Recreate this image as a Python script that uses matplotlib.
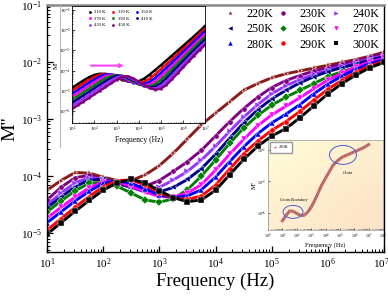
import numpy as np
import matplotlib
matplotlib.use('Agg')
import matplotlib.pyplot as plt
from matplotlib.lines import Line2D
from matplotlib.patches import Ellipse
from matplotlib.transforms import ScaledTranslation
from matplotlib.ticker import LogFormatterMathtext, NullFormatter

plt.rcParams['font.family'] = ['Liberation Serif', 'DejaVu Serif']
plt.rcParams['mathtext.fontset'] = 'stix'

# log10 of frequency (Hz) at which every curve was sampled
log_freq = [1.0, 1.25, 1.5, 1.75, 2.0, 2.25, 2.5, 2.75, 3.0, 3.25, 3.5, 3.75, 4.0,
            4.25, 4.5, 4.75, 5.0, 5.25, 5.5, 5.75, 6.0, 6.25, 6.5, 6.75, 7.0]

# main panel, log10(M'') for 220 K ... 300 K
main_temps = ['220K', '230K', '240K', '250K', '260K', '270K', '280K', '290K', '300K']
m_220 = [-4.25, -4.08, -3.94, -3.95, -4.02, -4.08, -4.08, -3.98, -3.82, -3.60, -3.35, -3.10, -2.90,
         -2.70, -2.50, -2.38, -2.28, -2.21, -2.16, -2.11, -2.06, -2.01, -1.96, -1.90, -1.83]
m_230 = [-4.42, -4.20, -4.03, -3.99, -4.06, -4.14, -4.19, -4.18, -4.08, -3.92, -3.75, -3.55, -3.30,
         -3.05, -2.82, -2.62, -2.45, -2.33, -2.24, -2.16, -2.10, -2.04, -1.98, -1.92, -1.86]
m_240 = [-4.51, -4.30, -4.12, -4.03, -4.05, -4.13, -4.20, -4.25, -4.20, -4.07, -3.92, -3.72, -3.48,
         -3.22, -2.97, -2.75, -2.56, -2.42, -2.31, -2.22, -2.14, -2.08, -2.02, -1.95, -1.89]
m_250 = [-4.56, -4.37, -4.19, -4.07, -4.06, -4.12, -4.20, -4.28, -4.28, -4.20, -4.06, -3.87, -3.62,
         -3.34, -3.07, -2.84, -2.65, -2.50, -2.37, -2.26, -2.17, -2.10, -2.04, -1.97, -1.91]
m_260 = [-4.63, -4.44, -4.26, -4.13, -4.11, -4.18, -4.30, -4.42, -4.46, -4.40, -4.24, -4.00, -3.72,
         -3.43, -3.16, -2.94, -2.76, -2.62, -2.50, -2.38, -2.26, -2.17, -2.10, -2.05, -2.00]
m_270 = [-4.74, -4.55, -4.37, -4.21, -4.10, -4.10, -4.18, -4.28, -4.36, -4.37, -4.30, -4.15, -3.90,
         -3.62, -3.36, -3.12, -2.93, -2.78, -2.63, -2.47, -2.32, -2.20, -2.09, -2.00, -1.94]
m_280 = [-4.82, -4.63, -4.44, -4.27, -4.13, -4.08, -4.13, -4.23, -4.33, -4.38, -4.35, -4.24, -4.02,
         -3.75, -3.49, -3.26, -3.07, -2.92, -2.75, -2.56, -2.39, -2.25, -2.13, -2.03, -1.96]
m_290 = [-4.95, -4.75, -4.55, -4.36, -4.19, -4.08, -4.07, -4.16, -4.29, -4.39, -4.41, -4.35, -4.16,
         -3.88, -3.61, -3.39, -3.20, -3.05, -2.87, -2.67, -2.48, -2.32, -2.18, -2.07, -1.99]
m_300 = [-5.02, -4.82, -4.62, -4.43, -4.25, -4.12, -4.06, -4.12, -4.26, -4.38, -4.45, -4.42, -4.25,
         -3.98, -3.71, -3.48, -3.30, -3.17, -2.98, -2.77, -2.56, -2.38, -2.23, -2.10, -2.01]
main_vals = [m_220, m_230, m_240, m_250, m_260, m_270, m_280, m_290, m_300]

# upper-left inset, log10(M'') for 310 K ... 450 K
inset_temps = ['310 K', '330 K', '350 K', '370 K', '390 K', '410 K', '430 K', '450 K']
i_310 = [-4.86, -4.68, -4.50, -4.34, -4.22, -4.16, -4.17, -4.25, -4.36, -4.46, -4.53, -4.56, -4.53,
         -4.40, -4.20, -3.97, -3.74, -3.50, -3.26, -3.02, -2.78, -2.54, -2.30, -2.05, -1.78]
i_330 = [-5.00, -4.82, -4.64, -4.47, -4.32, -4.21, -4.17, -4.20, -4.30, -4.42, -4.52, -4.59, -4.62,
         -4.56, -4.40, -4.18, -3.94, -3.69, -3.44, -3.19, -2.94, -2.69, -2.44, -2.18, -1.92]
i_350 = [-5.15, -4.97, -4.79, -4.61, -4.45, -4.30, -4.20, -4.19, -4.25, -4.37, -4.50, -4.60, -4.66,
         -4.67, -4.56, -4.36, -4.12, -3.87, -3.61, -3.35, -3.09, -2.83, -2.57, -2.31, -2.05]
i_370 = [-5.30, -5.12, -4.94, -4.76, -4.58, -4.42, -4.28, -4.21, -4.23, -4.32, -4.45, -4.58, -4.68,
         -4.73, -4.68, -4.52, -4.29, -4.04, -3.78, -3.51, -3.24, -2.97, -2.71, -2.45, -2.19]
i_390 = [-5.45, -5.27, -5.09, -4.91, -4.73, -4.55, -4.39, -4.27, -4.23, -4.28, -4.40, -4.54, -4.67,
         -4.76, -4.78, -4.67, -4.46, -4.21, -3.94, -3.67, -3.40, -3.12, -2.85, -2.59, -2.33]
i_410 = [-5.60, -5.42, -5.24, -5.06, -4.88, -4.70, -4.53, -4.37, -4.26, -4.26, -4.35, -4.49, -4.64,
         -4.77, -4.84, -4.80, -4.63, -4.38, -4.10, -3.82, -3.54, -3.26, -2.99, -2.72, -2.46]
i_430 = [-5.75, -5.57, -5.39, -5.21, -5.03, -4.85, -4.67, -4.50, -4.35, -4.27, -4.31, -4.44, -4.60,
         -4.75, -4.87, -4.89, -4.78, -4.55, -4.27, -3.98, -3.69, -3.40, -3.12, -2.85, -2.60]
i_450 = [-5.90, -5.72, -5.54, -5.36, -5.18, -5.00, -4.82, -4.64, -4.46, -4.31, -4.29, -4.39, -4.55,
         -4.72, -4.87, -4.95, -4.90, -4.71, -4.43, -4.14, -3.84, -3.55, -3.26, -2.98, -2.72]
inset_vals = [i_310, i_330, i_350, i_370, i_390, i_410, i_430, i_450]

main_colors = ['#8b1a1a', '#800080', '#9933ff', '#00008b', '#008000', '#ff00ff', '#0000ff', '#ff0000', '#000000']
main_markers = ['*', 'o', '>', '<', 'D', 'v', '^', 'o', 's']
inset_colors = ['#000000', '#ff0000', '#0000ff', '#ff00ff', '#008000', '#000080', '#9933ff', '#800080']

# decade ticks
x_ticks = [1e1, 1e2, 1e3, 1e4, 1e5, 1e6, 1e7]
y_ticks_main = [1e-5, 1e-4, 1e-3, 1e-2, 1e-1]
y_ticks_inset = [1e-6, 1e-5, 1e-4, 1e-3, 1e-2, 1e-1]
x_ticks_small = [1e0, 1e1, 1e2, 1e3, 1e4, 1e5, 1e6, 1e7, 1e8]
y_ticks_small = [1e-4, 1e-3, 1e-2]

freq = 10 ** np.array(log_freq)

fig = plt.figure(figsize=(3.88, 2.97), dpi=100)

# ---- main panel ----
ax = fig.add_axes([0.121, 0.152, 0.869, 0.832])
for vals, c, mk in zip(main_vals, main_colors, main_markers):
    ax.plot(freq, 10 ** np.array(vals), color=c, lw=2.1, marker=mk, ms=3.8,
            mec='white', mew=0.3)
ax.set_xscale('log')
ax.set_yscale('log')
ax.set_xlim(1e1, 1e7)
ax.set_ylim(10 ** -5.33, 1e-1)
ax.set_xticks(x_ticks)
ax.set_yticks(y_ticks_main)
ax.xaxis.set_major_formatter(LogFormatterMathtext())
ax.yaxis.set_major_formatter(LogFormatterMathtext())
ax.xaxis.set_minor_formatter(NullFormatter())
ax.yaxis.set_minor_formatter(NullFormatter())
ax.tick_params(which='both', direction='in', labelsize=8)
ax.tick_params(which='major', length=4, width=0.9)
ax.tick_params(which='minor', length=2.5, width=0.7)
for s in ax.spines.values():
    s.set_linewidth(1.0)
ax.spines['top'].set_color('#888888')
ax.spines['top'].set_linewidth(1.8)
ax.set_xlabel('Frequency (Hz)', fontsize=13.5, labelpad=1)
ax.set_ylabel("M''", fontsize=14, labelpad=2)
# keep the last tick label inside the picture
last = ax.xaxis.get_major_ticks()[-1].label1
last.set_transform(last.get_transform() + ScaledTranslation(-3 / 100, 0, fig.dpi_scale_trans))

order = [0, 3, 6, 1, 4, 7, 2, 5, 8]
handles = [Line2D([], [], ls='none', marker=main_markers[i], color=main_colors[i], ms=3.2, mew=0)
           for i in order]
ax.legend(handles, [main_temps[i] for i in order], ncol=3, loc='upper right',
          bbox_to_anchor=(0.985, 0.985), frameon=False, fontsize=8.7, handlelength=1.0,
          handletextpad=0.8, columnspacing=0.35, labelspacing=0.25, borderpad=0, borderaxespad=0)

# thin border of the inset picture
fig.add_artist(Line2D([60 / 388, 60 / 388], [1 - 147 / 297, 1 - 5 / 297],
                      transform=fig.transFigure, color='#bbbbbb', lw=0.8))

# ---- upper-left inset ----
ax1 = fig.add_axes([0.186, 0.586, 0.343, 0.394])
for vals, c in zip(inset_vals, inset_colors):
    ax1.plot(freq, 10 ** np.array(vals), color=c, lw=1.8, marker='o', ms=1.8, mew=0)
ax1.set_xscale('log')
ax1.set_yscale('log')
ax1.set_xlim(1e1, 1e7)
ax1.set_ylim(10 ** -6.6, 10 ** -0.8)
ax1.set_xticks(x_ticks)
ax1.set_yticks(y_ticks_inset)
ax1.xaxis.set_major_formatter(LogFormatterMathtext())
ax1.yaxis.set_major_formatter(LogFormatterMathtext())
ax1.xaxis.set_minor_formatter(NullFormatter())
ax1.yaxis.set_minor_formatter(NullFormatter())
ax1.tick_params(which='both', direction='in', labelsize=3.6, pad=1.5)
ax1.tick_params(which='major', length=2, width=0.5)
ax1.tick_params(which='minor', length=1, width=0.4)
for s in ax1.spines.values():
    s.set_linewidth(0.6)
ax1.set_xlabel('Frequency (Hz)', fontsize=5.5, labelpad=1)
ax1.set_ylabel("M''", fontsize=5, labelpad=0)
iorder = [0, 3, 6, 1, 4, 7, 2, 5]
ih = [Line2D([], [], ls='none', marker='o', color=inset_colors[i], ms=2, mew=0) for i in iorder]
ax1.legend(ih, [inset_temps[i] for i in iorder], ncol=3, loc='upper left',
           bbox_to_anchor=(0.12, 0.965), frameon=False, fontsize=3.4, handlelength=0.8,
           handletextpad=0.5, columnspacing=1.2, labelspacing=0.45, borderpad=0, borderaxespad=0)
ax1.annotate('', xy=(0.41, 0.49), xytext=(0.12, 0.49), xycoords='axes fraction',
             arrowprops=dict(arrowstyle='-|>', color='#ff44ff', lw=1.5, mutation_scale=5))

# ---- lower-right inset (220 K curve) ----
ax2 = fig.add_axes([0.691, 0.226, 0.296, 0.303])
grad = np.array([[0.0, 0.5], [0.5, 1.0]])
cmap = matplotlib.colors.LinearSegmentedColormap.from_list('bg', ['#fffbd6', '#fde2c8'])
ax2.imshow(grad, extent=[0, 1, 0, 1], transform=ax2.transAxes, cmap=cmap,
           interpolation='bicubic', aspect='auto', zorder=0)
ax2.plot(freq, 10 ** np.array(m_220), color='#b86a6a', lw=2.2, marker='*', ms=1.5,
         mfc='#e08090', mew=0, zorder=2)
ax2.set_xscale('log')
ax2.set_yscale('log')
ax2.set_xlim(1e0, 1e8)
ax2.set_ylim(10 ** -4.54, 10 ** -1.68)
ax2.set_xticks(x_ticks_small)
ax2.set_yticks(y_ticks_small)
ax2.xaxis.set_major_formatter(LogFormatterMathtext())
ax2.yaxis.set_major_formatter(LogFormatterMathtext())
ax2.xaxis.set_minor_formatter(NullFormatter())
ax2.yaxis.set_minor_formatter(NullFormatter())
ax2.tick_params(which='both', direction='in', labelsize=3, pad=1.5)
ax2.tick_params(which='major', length=1.5, width=0.4)
ax2.tick_params(which='minor', length=0.8, width=0.3)
for s in ax2.spines.values():
    s.set_linewidth(0.5)
    s.set_color('#999999')
ax2.set_xlabel('Frequency (Hz)', fontsize=4.6, labelpad=1)
ax2.set_ylabel("M''", fontsize=4.5, labelpad=0)
ax2.add_patch(Ellipse((0.217, 0.2), 0.174, 0.144, transform=ax2.transAxes,
                      fill=False, ec='#4a5fd0', lw=0.7, zorder=3))
ax2.add_patch(Ellipse((0.652, 0.833), 0.235, 0.21, transform=ax2.transAxes,
                      fill=False, ec='#4a5fd0', lw=0.7, zorder=3))
ax2.text(0.226, 0.333, 'Grain Boundary', transform=ax2.transAxes, fontsize=3,
         style='italic', ha='center', va='center')
ax2.text(0.696, 0.633, 'Grain', transform=ax2.transAxes, fontsize=3,
         style='italic', ha='center', va='center')
h2 = [Line2D([], [], ls='none', marker='*', color='#d06080', ms=2.5, mew=0)]
ax2.legend(h2, ['220K'], loc='upper left', fontsize=3.2, frameon=True, fancybox=False,
           edgecolor='#999999', framealpha=1, handlelength=0.8, handletextpad=0.4,
           borderpad=0.8, borderaxespad=0.4)

fig.savefig('out.png', dpi=100)
